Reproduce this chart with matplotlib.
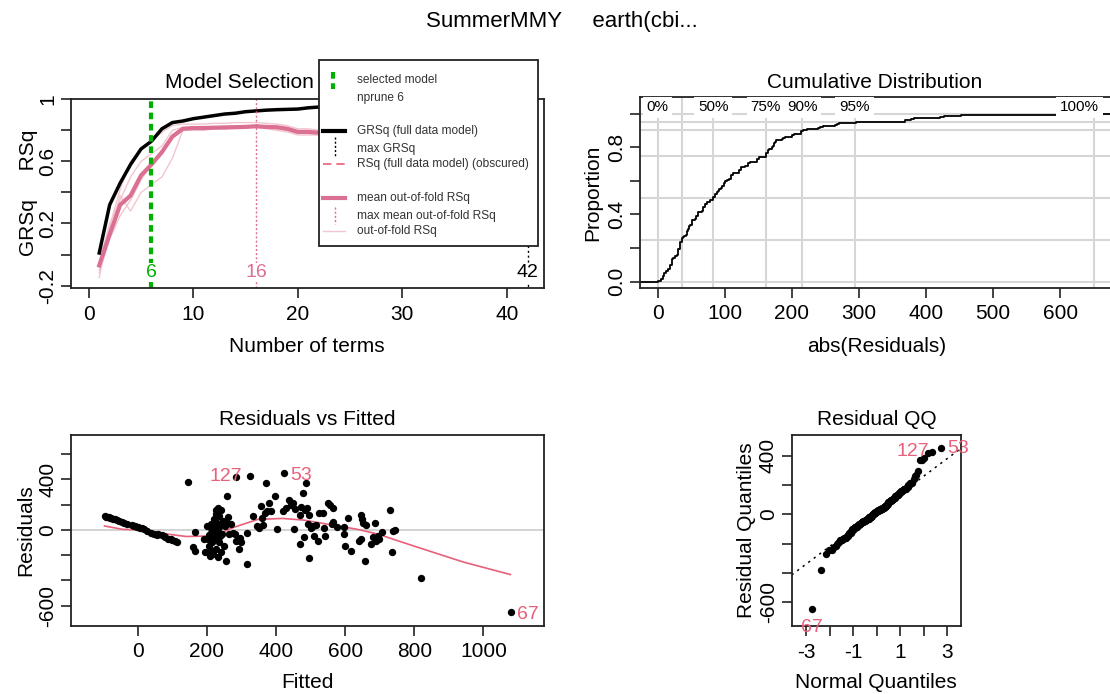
import matplotlib
matplotlib.use("Agg")
import matplotlib.pyplot as plt
from matplotlib.patches import Rectangle
from matplotlib.lines import Line2D
import numpy as np
from statistics import NormalDist

plt.rcParams['font.family'] = ['Liberation Sans', 'DejaVu Sans']

W, H = 1110, 694
FS = 15

# ---- model selection data (x = number of terms) ----
nterms = np.arange(1, 43)
grsq = [0.01, 0.32, 0.46, 0.58, 0.68, 0.73, 0.81, 0.85, 0.86, 0.875, 0.885, 0.895, 0.905, 0.91,
        0.92, 0.925, 0.93, 0.933, 0.935, 0.937, 0.945, 0.95, 0.952, 0.953, 0.955, 0.956, 0.957, 0.958,
        0.959, 0.96, 0.96, 0.961, 0.961, 0.962, 0.962, 0.963, 0.963, 0.963, 0.964, 0.964, 0.964, 0.965]
mean_oof_rsq = [-0.07, 0.13, 0.32, 0.38, 0.51, 0.58, 0.66, 0.76, 0.81, 0.815, 0.815, 0.817, 0.818, 0.82,
                0.822, 0.826, 0.822, 0.82, 0.81, 0.79, 0.79, 0.785, 0.78, 0.775, 0.77, 0.765, 0.76, 0.755,
                0.75, 0.745, 0.74, 0.735, 0.73, 0.725, 0.72, 0.715, 0.71, 0.705, 0.70, 0.695, 0.69, 0.685]
oof_fold1 = [-0.15, 0.18, 0.42, 0.60, 0.68, 0.73, 0.79, 0.83, 0.84, 0.84, 0.84, 0.845, 0.845, 0.85,
             0.85, 0.85, 0.845, 0.84, 0.83, 0.81, 0.81, 0.80, 0.80, 0.79, 0.79, 0.78, 0.78, 0.77,
             0.77, 0.76, 0.76, 0.75, 0.75, 0.74, 0.74, 0.73, 0.73, 0.72, 0.72, 0.71, 0.71, 0.70]
oof_fold2 = [-0.10, 0.12, 0.38, 0.28, 0.40, 0.45, 0.50, 0.62, 0.80, 0.81, 0.81, 0.81, 0.82, 0.82,
             0.82, 0.83, 0.82, 0.81, 0.80, 0.78, 0.78, 0.77, 0.77, 0.76, 0.76, 0.75, 0.75, 0.74,
             0.74, 0.73, 0.73, 0.72, 0.72, 0.71, 0.71, 0.70, 0.70, 0.69, 0.69, 0.68, 0.68, 0.67]
oof_fold3 = [-0.12, 0.10, 0.25, 0.35, 0.48, 0.58, 0.66, 0.75, 0.80, 0.80, 0.80, 0.81, 0.81, 0.82,
             0.82, 0.82, 0.81, 0.80, 0.79, 0.77, 0.77, 0.77, 0.76, 0.76, 0.75, 0.75, 0.74, 0.74,
             0.73, 0.73, 0.72, 0.72, 0.71, 0.71, 0.70, 0.70, 0.69, 0.69, 0.68, 0.68, 0.67, 0.67]
oof_fold4 = [-0.05, 0.20, 0.35, 0.50, 0.60, 0.65, 0.70, 0.80, 0.82, 0.82, 0.82, 0.82, 0.83, 0.83,
             0.83, 0.83, 0.82, 0.81, 0.80, 0.78, 0.78, 0.78, 0.77, 0.77, 0.76, 0.76, 0.75, 0.75,
             0.74, 0.74, 0.73, 0.73, 0.72, 0.72, 0.71, 0.71, 0.70, 0.70, 0.69, 0.69, 0.68, 0.68]
selected_nterms = 6
max_oof_nterms = 16
max_grsq_nterms = 42

# ---- residuals ----
fitted = [-96, -92, -88, -84, -80, -76, -72, -65, -60, -54, -45, -39, -30, -18, -12, -8, -3, 2, 7, 12,
          17, 28, 38, 48, 55, 59, 69, 75, 79, 89, 95, 100, 108, 115,
          146, 165, 161, 167, 192, 195, 200, 203, 206, 208, 211, 213, 215, 218, 220, 221, 223, 225, 226, 228,
          229, 232, 234, 236, 239, 241, 242, 244, 246, 249, 252, 254, 257, 259, 264, 270, 275, 280, 285, 285,
          293, 295, 316, 316, 326, 334, 344, 352, 357, 359, 362, 367, 372, 375, 380, 386, 396, 403, 419, 424,
          429, 439, 444, 449, 451, 454, 468, 470, 478, 482, 485, 487, 490, 492, 495, 496, 501, 506, 511, 516,
          525, 537, 540, 542, 550, 557, 563, 575, 596, 598, 600, 609, 645, 648, 653, 657, 660, 640, 645, 676,
          681, 686, 688, 694, 699, 707, 731, 736, 738, 743, 820, 1079,
          205, 212, 216, 224, 231, 238, 262, 300, 520, 565, 210, 227, 617, 219, 233, 566, 471]
residuals = [109, 106, 104, 100, 96, 92, 88, 83, 78, 70, 60, 52, 45, 36, 34, 31, 26, 22, 18, 12,
             5, -10, -21, -29, -38, -34, -42, -48, -52, -68, -70, -78, -88, -99,
             382, -16, -138, -164, -73, -177, 31, -68, -125, -203, -21, 44, -99, -164, 83, 5, -60, 161, -151, 57,
             -21, -216, -99, 109, 31, 161, -177, -34, 70, -125, 31, -242, 265, 57, -34, 44, -21, -34, 421, -86,
             -151, -60, -268, -21, 426, 109, 31, 18, 187, 96, 36, 135, 369, 148, 213, 148, 270, 10, 148, 452,
             174, 239, 200, 213, 10, 166, 122, -112, 296, -52, 161, 369, 174, 44, 122, -223, 18, 31, -47, 36,
             135, 135, 18, -47, 213, 200, 44, 23, 26, -34, -125, 91, 122, 83, 57, -247, 36, -86, -73, -112,
             -52, 52, -86, -47, -68, -16, 161, -172, -8, 0, -377, -650,
             -40, 12, -55, 66, -8, -45, 100, -95, -90, 60, -170, 130, -165, -190, 175, 170, 185]
labelled_ids = {1079: "67", 424: "53", 326: "127"}   # fitted value -> case number
smooth_fitted = [-96, -44, 17, 89, 141, 223, 275, 347, 419, 480, 552, 635, 697, 738, 840, 943, 1078]
smooth_resid = [31, 5, 0, -34, -52, -47, 18, 83, 91, 78, 44, 5, -34, -73, -164, -255, -353]
cdf_probs = [0, 0.25, 0.5, 0.75, 0.9, 0.95, 1.0]
cdf_labels = ["0%", None, "50%", "75%", "90%", "95%", "100%"]

PINK = '#DB7093'
LIGHTPINK = '#F2C6CF'
RED = '#E8607A'
GREEN = '#00B000'
INK = '#222222'


def rect(left, top, right, bottom):
    return [left / W, 1 - bottom / H, (right - left) / W, (bottom - top) / H]


def ftext(x, y, s, **kw):
    kw.setdefault('ha', 'center')
    kw.setdefault('va', 'center')
    kw.setdefault('fontsize', FS)
    fig.text(x / W, 1 - y / H, s, **kw)


def style(ax, xt, xl, yt, yl):
    ax.set_xticks(xt)
    ax.set_xticklabels(xl)
    ax.set_yticks(yt)
    ax.set_yticklabels(yl, rotation=90, va='center')
    ax.tick_params(length=7, width=1.2, labelsize=FS, color=INK)
    ax.tick_params(axis='x', pad=5)
    ax.tick_params(axis='y', pad=3)
    for sp in ax.spines.values():
        sp.set_linewidth(1.3)
        sp.set_color(INK)


fig = plt.figure(figsize=(W / 100, H / 100), dpi=100)
ftext(562, 22, "SummerMMY     earth(cbi...", fontsize=16)

# ---------------- Model selection ----------------
ax1 = fig.add_axes(rect(71, 98.5, 544, 288))
for fold in (oof_fold1, oof_fold2, oof_fold3, oof_fold4):
    ax1.plot(nterms, fold, color=LIGHTPINK, lw=1)
ax1.plot(nterms, mean_oof_rsq, color=PINK, lw=3)
ax1.plot(nterms, grsq, color='black', lw=2.5)
ax1.axvline(selected_nterms, color=GREEN, lw=3, ls=(0, (1.6, 1.1)))
ax1.axvline(max_oof_nterms, color=PINK, lw=1, ls=(0, (1.5, 1.5)))
ax1.plot([max_grsq_nterms, max_grsq_nterms], [-0.3, 0.06], color='black', lw=1, ls=(0, (1.5, 2)))
for xv, c in ((selected_nterms, GREEN), (max_oof_nterms, PINK), (max_grsq_nterms, 'black')):
    ax1.text(xv, -0.115, str(xv), color=c, fontsize=14, ha='center', va='center',
             bbox=dict(fc='white', ec='none', pad=0.5))
ax1.set_xlim(-1.7, 43.55)
ax1.set_ylim(-0.2155, 1.005)
style(ax1, [0, 10, 20, 30, 40], ['0', '10', '20', '30', '40'],
      [-0.2, 0, 0.2, 0.4, 0.6, 0.8, 1.0], ['-0.2', '', '0.2', '', '0.6', '', '1'])
ftext(165, 83, "Model Selection", ha='left')
ftext(307, 347, "Number of terms")
ftext(28, 193, "GRSq     RSq", rotation=90)

# legend box drawn in figure pixels
fig.add_artist(Rectangle((319 / W, 1 - 246 / H), (537.7 - 319) / W, 186 / H,
                         transform=fig.transFigure, fc='white', ec=INK, lw=1.3))


def lline(xs, ys, **kw):
    fig.add_artist(Line2D([x / W for x in xs], [1 - y / H for y in ys],
                          transform=fig.transFigure, **kw))


lline([332.7, 332.7], [72, 89], color=GREEN, lw=3, ls=(0, (1.6, 1.1)))
lline([323, 345], [131, 131], color='black', lw=3)
lline([335, 335], [137, 157], color='black', lw=1, ls=(0, (1.5, 1.5)))
lline([323, 345], [164, 164], color=RED, lw=1.2, ls=(0, (5, 3)))
lline([323, 345], [198, 198], color=PINK, lw=3)
lline([335, 335], [207, 224], color=PINK, lw=1, ls=(0, (1.5, 1.5)))
lline([323, 345], [231, 231], color=LIGHTPINK, lw=1)
for yy, s in ((80, "selected model"), (97.7, "nprune 6"), (131, "GRSq (full data model)"),
              (149, "max GRSq"), (164, "RSq (full data model) (obscured)"),
              (198, "mean out-of-fold RSq"), (216, "max mean out-of-fold RSq"), (231, "out-of-fold RSq")):
    ftext(356.7, yy, s, ha='left', fontsize=8.6, color='#333333')

# ---------------- Cumulative distribution ----------------
ax2 = fig.add_axes(rect(640, 97.3, 1114, 287.7))
abs_res = np.sort(np.abs(residuals))
n = len(abs_res)
qpos = np.quantile(abs_res, cdf_probs)
for q in qpos:
    ax2.axvline(q, color='#D6D6D6', lw=1.5, zorder=1)
for p in cdf_probs:
    ax2.axhline(p, color='#D6D6D6', lw=1.5, zorder=1)
xs = np.concatenate([[-100], abs_res, [1000]])
ys = np.concatenate([[0], np.arange(1, n + 1) / n, [1]])
ax2.step(xs, ys, where='post', color='black', lw=1.3, zorder=2)
for q, lab in zip(qpos, cdf_labels):
    if lab is None:
        continue
    ha = 'right' if lab == "100%" else 'center'
    xq = q + 8 if lab == "100%" else q
    ax2.text(xq, 1.037, lab, fontsize=11, ha=ha, va='center', zorder=4,
             bbox=dict(fc='white', ec='none', boxstyle='square,pad=0.25'))
ax2.set_xlim(-26.2, 680)
ax2.set_ylim(-0.036, 1.097)
style(ax2, [0, 100, 200, 300, 400, 500, 600], ['0', '100', '200', '300', '400', '500', '600'],
      [0, 0.2, 0.4, 0.6, 0.8, 1.0], ['0.0', '', '0.4', '', '0.8', ''])
ftext(875, 83, "Cumulative Distribution")
ftext(877, 347, "abs(Residuals)")
ftext(593, 193, "Proportion", rotation=90)

# ---------------- Residuals vs fitted ----------------
ax3 = fig.add_axes(rect(71, 435, 544.3, 625.5))
ax3.axhline(0, color='#CCCCCC', lw=1.2, zorder=1)
ax3.scatter(fitted, residuals, s=28, color='black', zorder=3, linewidths=0)
ax3.plot(smooth_fitted, smooth_resid, color=RED, lw=1.2, zorder=2)
for fx, r in zip(fitted, residuals):
    if fx in labelled_ids:
        lab = labelled_ids[fx]
        if lab == "127":
            ax3.text(fx - 25, r - 5, lab, color=RED, fontsize=14, ha='right', va='center')
        else:
            ax3.text(fx + 18, r - 20, lab, color=RED, fontsize=14, ha='left', va='center')
ax3.set_xlim(-193, 1176)
ax3.set_ylim(-756, 751)
style(ax3, [0, 200, 400, 600, 800, 1000], ['0', '200', '400', '600', '800', '1000'],
      [-600, -400, -200, 0, 200, 400, 600], ['-600', '', '', '0', '', '400', ''])
ftext(307, 420, "Residuals vs Fitted")
ftext(307, 683, "Fitted")
ftext(26, 530, "Residuals", rotation=90)

# ---------------- Residual QQ ----------------
ax4 = fig.add_axes(rect(791.7, 435, 960.7, 626))
order = np.argsort(residuals)
sorted_res = np.array(residuals)[order]
sorted_fit = np.array(fitted)[order]
theo = np.array([NormalDist().inv_cdf((i - 0.5) / n) for i in range(1, n + 1)])
q1, q3 = np.percentile(residuals, [25, 75])
z1, z3 = NormalDist().inv_cdf(0.25), NormalDist().inv_cdf(0.75)
slope = (q3 - q1) / (z3 - z1)
icpt = q1 - slope * z1
lx = np.array([-3.62, 3.57])
ax4.plot(lx, icpt + slope * lx, color='black', lw=1.1, ls=(0, (1.5, 3)))
ax4.scatter(theo, sorted_res, s=28, color='black', zorder=3, linewidths=0)
for t, r, fx in zip(theo, sorted_res, sorted_fit):
    if fx in labelled_ids:
        lab = labelled_ids[fx]
        if lab == "67":
            ax4.text(t, r - 120, lab, color=RED, fontsize=14, ha='center', va='center', clip_on=False)
        elif lab == "127":
            ax4.text(t - 0.15, r, lab, color=RED, fontsize=14, ha='right', va='center', clip_on=False)
        else:
            ax4.text(t + 0.25, r, lab, color=RED, fontsize=14, ha='left', va='center', clip_on=False)
ax4.set_xlim(-3.62, 3.57)
ax4.set_ylim(-763, 542)
style(ax4, [-3, -2, -1, 0, 1, 2, 3], ['-3', '', '-1', '', '1', '', '3'],
      [-600, -400, -200, 0, 200, 400], ['-600', '', '', '0', '', '400'])
ftext(877, 420, "Residual QQ")
ftext(876, 683, "Normal Quantiles")
ftext(747, 530, "Residual Quantiles", rotation=90)

fig.savefig("out.png", dpi=100)
